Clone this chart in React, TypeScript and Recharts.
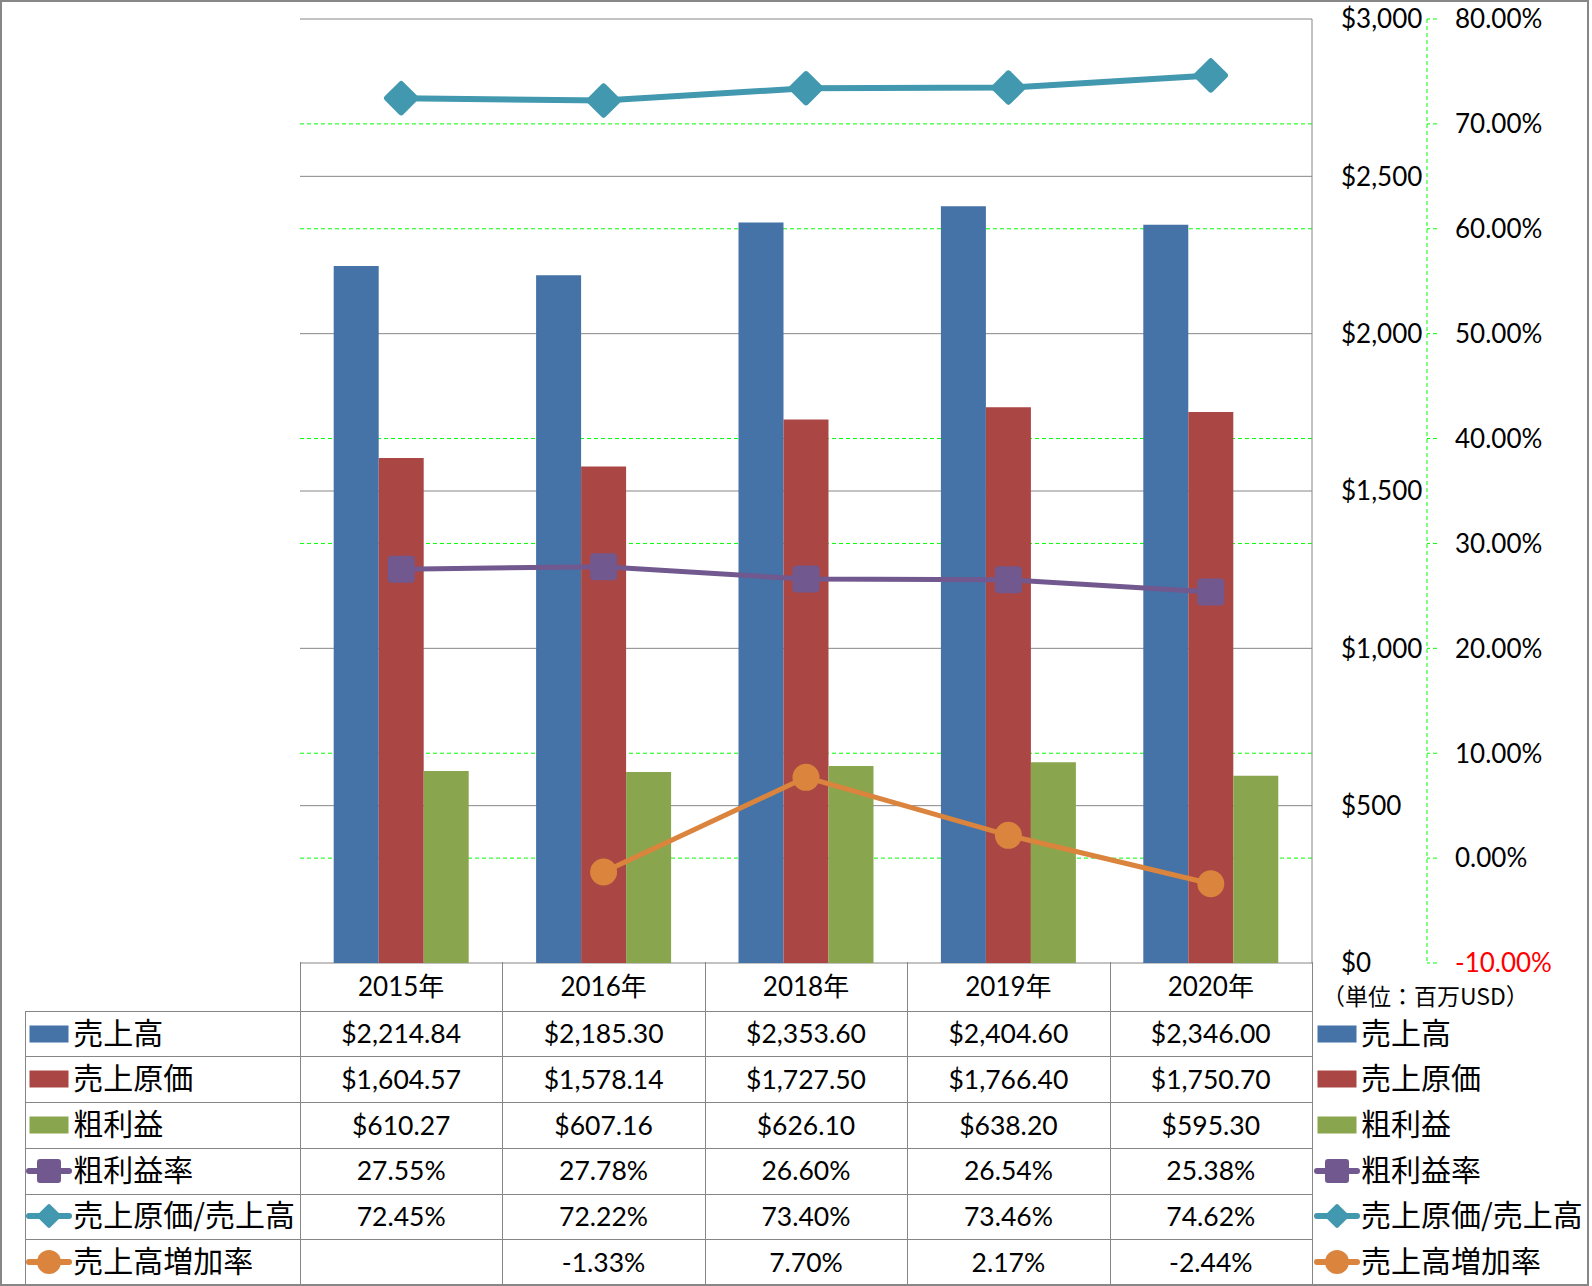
import React from 'react';
import { ComposedChart, Bar, Line, XAxis, YAxis, CartesianGrid } from 'recharts';

// ---------- data ----------
const years = ['2015年', '2016年', '2018年', '2019年', '2020年'];
const sales = [2214.84, 2185.3, 2353.6, 2404.6, 2346.0];
const cost = [1604.57, 1578.14, 1727.5, 1766.4, 1750.7];
const gross = [610.27, 607.16, 626.1, 638.2, 595.3];
const marginRate = [27.55, 27.78, 26.6, 26.54, 25.38];
const costRatio = [72.45, 72.22, 73.4, 73.46, 74.62];
const growth: (number | null)[] = [null, -1.33, 7.7, 2.17, -2.44];

const usdTicks = [0, 500, 1000, 1500, 2000, 2500, 3000];
const pctTicks = [-10, 0, 10, 20, 30, 40, 50, 60, 70, 80];

const seriesNames = ['売上高', '売上原価', '粗利益', '粗利益率', '売上原価/売上高', '売上高増加率'];
const seriesColors = ['#4572A7', '#AA4643', '#89A54E', '#71588F', '#4198AF', '#DB843D'];
const seriesKinds = ['bar', 'bar', 'bar', 'square', 'diamond', 'circle'];
const unitLabel = '（単位：百万USD）';

const USD_DOMAIN = [0, 3000];
const PCT_DOMAIN = [-10, 80];

// ---------- helpers ----------
const fmtUsd = (v: number) =>
  '$' + v.toLocaleString('en-US', { minimumFractionDigits: 2, maximumFractionDigits: 2 });
const fmtPct = (v: number | null) => (v === null || v === undefined ? '' : v.toFixed(2) + '%');

const data = years.map((y, i) => ({
  year: y,
  sales: sales[i],
  cost: cost[i],
  gross: gross[i],
  marginRate: marginRate[i],
  costRatio: costRatio[i],
  growth: growth[i],
}));

// percent grid lines that do not fall on a $ grid line (those show gray)
const pctGridValues = pctTicks.filter((v) => {
  const frac = (v - PCT_DOMAIN[0]) / (PCT_DOMAIN[1] - PCT_DOMAIN[0]);
  const usd = USD_DOMAIN[0] + frac * (USD_DOMAIN[1] - USD_DOMAIN[0]);
  return !usdTicks.some((u) => Math.abs(u - usd) < 1e-6);
});

const tableRows = [
  { values: sales as (number | null)[], fmt: fmtUsd },
  { values: cost as (number | null)[], fmt: fmtUsd },
  { values: gross as (number | null)[], fmt: fmtUsd },
  { values: marginRate as (number | null)[], fmt: fmtPct },
  { values: costRatio as (number | null)[], fmt: fmtPct },
  { values: growth, fmt: fmtPct },
];

const NUM_FONT = "Lato, 'Noto Sans CJK JP', sans-serif";
const JP_FONT = "'Noto Sans CJK JP', sans-serif";
const GRID_GRAY = '#868686';
const GREEN = '#00ff00';

// ---------- layout ----------
const W = 1592;
const H = 1286;
const PLOT_LEFT = 300;
const PLOT_TOP = 19;
const PLOT_W = 1012;
const PLOT_BOTTOM = 963;
const CHART_H = 1000;
const USD_AXIS_W = 115;
const PCT_AXIS_W = 130;
const CHART_W = 1590;
const HEADER_TOP = 962.3;
const ROW_TOP = 1010.7;
const ROW_H = 45.7;
const TABLE_LEFT = 25.3;

// ---------- custom shapes ----------
const makeDot = (kind: string, color: string) => (p: any) => {
  const { cx, cy, index, value } = p;
  if (cx == null || cy == null || value == null) return <g key={'d' + index} />;
  if (kind === 'square') {
    return <rect key={'d' + index} x={cx - 13.5} y={cy - 13.5} width={27} height={27} rx={4} fill={color} />;
  }
  if (kind === 'diamond') {
    return (
      <rect
        key={'d' + index}
        x={cx - 13}
        y={cy - 13}
        width={26}
        height={26}
        rx={3}
        fill={color}
        transform={`rotate(45 ${cx} ${cy})`}
      />
    );
  }
  return <circle key={'d' + index} cx={cx} cy={cy} r={13.5} fill={color} />;
};

const UsdTick = (p: any) => {
  const { x, y, payload } = p;
  return (
    <text x={x} y={y} dy="0.36em" textAnchor="start" fontFamily={NUM_FONT} fontSize={26} fill="#000">
      {'$' + Number(payload.value).toLocaleString('en-US')}
    </text>
  );
};

const PctTick = (p: any) => {
  const { x, y, payload } = p;
  const v = Number(payload.value);
  return (
    <text x={x} y={y} dy="0.36em" textAnchor="start" fontFamily={NUM_FONT} fontSize={26} fill={v < 0 ? '#ff0000' : '#000'}>
      {v.toFixed(2) + '%'}
    </text>
  );
};

const LegendIcon = ({ kind, color }: { kind: string; color: string }) => {
  if (kind === 'bar') {
    return (
      <svg width={46} height={30} style={{ display: 'block' }}>
        <rect x={3.5} y={6.5} width={39} height={17} fill={color} />
      </svg>
    );
  }
  return (
    <svg width={46} height={30} style={{ display: 'block' }}>
      <line x1={3} y1={15} x2={43} y2={15} stroke={color} strokeWidth={6} strokeLinecap="round" />
      {kind === 'square' && <rect x={11} y={3} width={24} height={24} rx={3} fill={color} />}
      {kind === 'diamond' && (
        <rect x={14} y={6} width={18} height={18} rx={2} fill={color} transform="rotate(45 23 15)" />
      )}
      {kind === 'circle' && <circle cx={23} cy={15} r={12} fill={color} />}
    </svg>
  );
};

export default function App() {
  const colW = PLOT_W / years.length;
  const colX = Array.from({ length: years.length + 1 }, (_, i) => PLOT_LEFT + i * colW);
  const rowYs = Array.from({ length: tableRows.length + 1 }, (_, i) => ROW_TOP + i * ROW_H);

  const lineStyle = (l: number, t: number, w: number, h: number): React.CSSProperties => ({
    position: 'absolute',
    left: Math.round(l),
    top: Math.round(t),
    width: w,
    height: h,
    background: GRID_GRAY,
  });

  const labelStyle: React.CSSProperties = {
    fontFamily: JP_FONT,
    fontSize: 30,
    lineHeight: 1,
    color: '#000',
    marginLeft: 1,
    whiteSpace: 'nowrap',
    position: 'relative',
    top: -3,
  };

  return (
    <div
      style={{
        position: 'absolute',
        left: 0,
        top: 0,
        width: W,
        height: H,
        background: '#fff',
        overflow: 'hidden',
      }}
    >
      <div style={{ position: 'absolute', left: 0, top: 0 }}>
        <ComposedChart
          width={CHART_W}
          height={CHART_H}
          data={data}
          margin={{
            top: PLOT_TOP,
            right: CHART_W - PLOT_LEFT - PLOT_W - USD_AXIS_W - PCT_AXIS_W,
            left: PLOT_LEFT,
            bottom: CHART_H - PLOT_BOTTOM,
          }}
          barCategoryGap="16.65%"
          barGap={0}
        >
          <XAxis dataKey="year" hide />
          <YAxis
            yAxisId="b_pct"
            orientation="right"
            domain={PCT_DOMAIN}
            ticks={pctTicks}
            width={PCT_AXIS_W}
            axisLine={{ stroke: GREEN, strokeDasharray: '4 3' }}
            tickLine={{ stroke: GREEN, strokeDasharray: '4 3' }}
            tickSize={10}
            tickMargin={18}
            tick={<PctTick />}
            interval={0}
          />
          <YAxis
            yAxisId="a_usd"
            orientation="right"
            domain={USD_DOMAIN}
            ticks={usdTicks}
            width={USD_AXIS_W}
            axisLine={{ stroke: GRID_GRAY, strokeWidth: 1 }}
            tickLine={false}
            tickSize={0}
            tickMargin={29}
            tick={<UsdTick />}
            interval={0}
          />
          <CartesianGrid
            yAxisId="b_pct"
            vertical={false}
            horizontalValues={pctGridValues}
            stroke={GREEN}
            strokeDasharray="4 3"
          />
          <CartesianGrid yAxisId="a_usd" vertical={false} stroke={GRID_GRAY} />
          <Bar yAxisId="a_usd" dataKey="sales" fill={seriesColors[0]} isAnimationActive={false} />
          <Bar yAxisId="a_usd" dataKey="cost" fill={seriesColors[1]} isAnimationActive={false} />
          <Bar yAxisId="a_usd" dataKey="gross" fill={seriesColors[2]} isAnimationActive={false} />
          <Line
            yAxisId="b_pct"
            dataKey="marginRate"
            stroke={seriesColors[3]}
            strokeWidth={5}
            dot={makeDot('square', seriesColors[3])}
            activeDot={false}
            isAnimationActive={false}
          />
          <Line
            yAxisId="b_pct"
            dataKey="costRatio"
            stroke={seriesColors[4]}
            strokeWidth={6}
            dot={makeDot('diamond', seriesColors[4])}
            activeDot={false}
            isAnimationActive={false}
          />
          <Line
            yAxisId="b_pct"
            dataKey="growth"
            stroke={seriesColors[5]}
            strokeWidth={5}
            dot={makeDot('circle', seriesColors[5])}
            activeDot={false}
            isAnimationActive={false}
          />
        </ComposedChart>
      </div>

      {/* unit label */}
      <div
        style={{
          position: 'absolute',
          left: 1322,
          top: 984,
          fontFamily: JP_FONT,
          fontSize: 23,
          lineHeight: '23px',
          color: '#000',
          whiteSpace: 'nowrap',
        }}
      >
        {unitLabel}
      </div>

      {/* header row (categories) */}
      {years.map((y, i) => (
        <div
          key={'h' + i}
          style={{
            position: 'absolute',
            left: colX[i],
            top: HEADER_TOP,
            width: colW,
            height: ROW_TOP - HEADER_TOP,
            display: 'flex',
            alignItems: 'center',
            justifyContent: 'center',
            fontFamily: NUM_FONT,
            fontSize: 26,
            lineHeight: 1,
            color: '#000',
          }}
        >
          {y}
        </div>
      ))}

      {/* data rows */}
      {tableRows.map((r, ri) => (
        <React.Fragment key={'r' + ri}>
          <div
            style={{
              position: 'absolute',
              left: TABLE_LEFT,
              top: rowYs[ri],
              height: ROW_H,
              display: 'flex',
              alignItems: 'center',
            }}
          >
            <div style={{ marginLeft: 1 }}>
              <LegendIcon kind={seriesKinds[ri]} color={seriesColors[ri]} />
            </div>
            <span style={labelStyle}>{seriesNames[ri]}</span>
          </div>
          {r.values.map((v, ci) => (
            <div
              key={'c' + ri + '-' + ci}
              style={{
                position: 'absolute',
                left: colX[ci],
                top: rowYs[ri],
                width: colW,
                height: ROW_H,
                display: 'flex',
                alignItems: 'center',
                justifyContent: 'center',
                fontFamily: NUM_FONT,
                fontSize: 26.5,
                lineHeight: 1,
                color: '#000',
              }}
            >
              {v === null ? '' : r.fmt(v as number)}
            </div>
          ))}
          <div
            style={{
              position: 'absolute',
              left: 1314,
              top: rowYs[ri],
              height: ROW_H,
              display: 'flex',
              alignItems: 'center',
            }}
          >
            <LegendIcon kind={seriesKinds[ri]} color={seriesColors[ri]} />
            <span style={labelStyle}>{seriesNames[ri]}</span>
          </div>
        </React.Fragment>
      ))}

      {/* table lines */}
      {colX.map((x, i) => (
        <div key={'v' + i} style={lineStyle(x, HEADER_TOP, 1, H - HEADER_TOP)} />
      ))}
      <div style={lineStyle(TABLE_LEFT, ROW_TOP, 1, H - ROW_TOP)} />
      {rowYs.map((y, i) => (
        <div key={'hl' + i} style={lineStyle(TABLE_LEFT, y, PLOT_LEFT + PLOT_W - TABLE_LEFT + 1, 1)} />
      ))}

      {/* outer frame */}
      <div
        style={{
          position: 'absolute',
          left: 0,
          top: 0,
          width: 1589,
          height: 1286,
          boxSizing: 'border-box',
          border: '2px solid #878787',
          pointerEvents: 'none',
        }}
      />
    </div>
  );
}
